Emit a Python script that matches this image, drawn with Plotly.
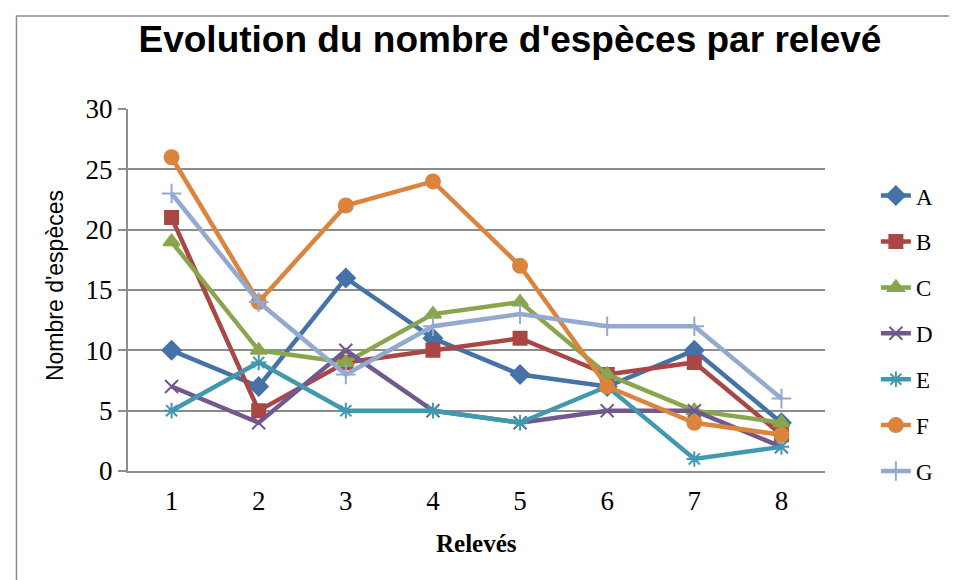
import plotly.graph_objects as go

releves = ["1", "2", "3", "4", "5", "6", "7", "8"]
A = [10, 7, 16, 11, 8, 7, 10, 4]
B = [21, 5, 9, 10, 11, 8, 9, 3]
C = [19, 10, 9, 13, 14, 8, 5, 4]
D = [7, 4, 10, 5, 4, 5, 5, 2]
E = [5, 9, 5, 5, 4, 7, 1, 2]
F = [26, 14, 22, 24, 17, 7, 4, 3]
G = [23, 14, 8, 12, 13, 12, 12, 6]

series = [
    ("A", A, "#4572A7", "diamond", 14),
    ("B", B, "#AA4643", "square", 13),
    ("C", C, "#89A54E", "triangle-up", 14),
    ("D", D, "#71588F", "x-thin", 13),
    ("E", E, "#4198AF", "asterisk-open", 13),
    ("F", F, "#DB843D", "circle", 14),
    ("G", G, "#93A9CF", "cross-thin", 14),
]

fig = go.Figure()
for name, vals, col, sym, sz in series:
    fig.add_trace(go.Scatter(
        x=releves, y=vals, name=name, legendgroup=name,
        mode="lines+markers",
        line=dict(color=col, width=4.5),
        marker=dict(symbol=sym, size=sz, color=col, line=dict(color=col, width=2)),
    ))

grid = "#8c8c8c"
fig.update_layout(
    width=957, height=580,
    margin=dict(l=120, r=140, t=101, b=117),
    paper_bgcolor="white", plot_bgcolor="white",
    title=dict(text="<b>Evolution du nombre d'espèces par relevé</b>",
               font=dict(family="Liberation Sans", size=37, color="black"),
               x=0.548, xref="paper", xanchor="center", y=0.947, yanchor="middle"),
    legend=dict(x=1.073, y=0.82, xanchor="left", yanchor="top",
                font=dict(family="Liberation Serif", size=23, color="black"),
                tracegroupgap=13, bgcolor="rgba(0,0,0,0)"),
    shapes=[dict(type="rect", xref="paper", yref="paper",
                 x0=-0.16, x1=1.3, y0=-0.5, y1=1.257,
                 line=dict(color="#8c8c8c", width=1.5), layer="below")],
    annotations=[
        dict(text="Nombre d'espèces", textangle=-90, xref="paper", yref="paper",
             x=-0.1047, y=0.511, xanchor="center", yanchor="middle", showarrow=False,
             font=dict(family="Liberation Sans", size=23, color="black")),
        dict(text="<b>Relevés</b>", xref="paper", yref="paper",
             x=0.5007, y=-0.199, xanchor="center", yanchor="middle", showarrow=False,
             font=dict(family="Liberation Serif", size=25, color="black")),
    ],
)
fig.update_xaxes(
    type="category", range=[-0.5, 7.5],
    showline=True, linecolor=grid, linewidth=2, showgrid=False, ticks="",
    ticklabelstandoff=5,
    tickfont=dict(family="Liberation Serif", size=27, color="black"),
)
fig.update_yaxes(
    range=[0, 30], dtick=5,
    showline=True, linecolor=grid, linewidth=2,
    showgrid=True, gridcolor=grid, gridwidth=2, zeroline=False,
    ticks="outside", ticklen=8, tickcolor=grid, tickwidth=2,
    tickfont=dict(family="Liberation Serif", size=27, color="black"),
)

fig.write_html("out.html")
